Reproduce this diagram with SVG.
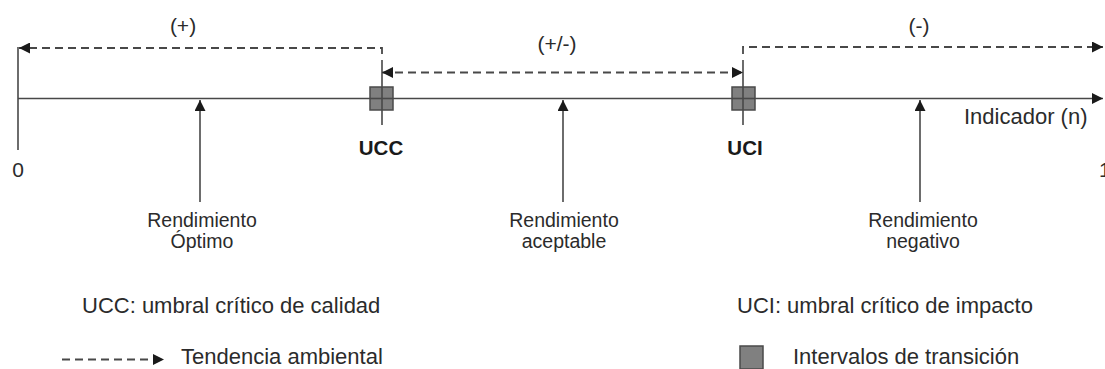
<svg xmlns="http://www.w3.org/2000/svg" width="1105" height="369" viewBox="0 0 1105 369">
  <style>
    text { font-family: "Liberation Sans", Arial, sans-serif; fill: #2b2b2b; }
    .lbl { font-size: 21px; }
    .leg { font-size: 22px; }
    .rend { font-size: 19.5px; text-anchor: middle; }
    .bold { font-size: 20.5px; font-weight: bold; text-anchor: middle; fill: #1a1a1a; }
    .line { stroke: #484848; stroke-width: 1.6; fill: none; }
    .dash { stroke: #484848; stroke-width: 1.8; fill: none; stroke-dasharray: 8 5; }
    .sq { fill: #808080; stroke: #4a4a4a; stroke-width: 1.5; }
  </style>
  <defs>
    <marker id="ah" viewBox="0 0 10 10" refX="10" refY="5" markerWidth="15" markerHeight="11" markerUnits="userSpaceOnUse" orient="auto-start-reverse">
      <path d="M0,0 L10,5 L0,10 Z" fill="#1a1a1a"/>
    </marker>
  </defs>

  <g id="connectors">
    <line class="line" x1="18" y1="47" x2="18" y2="150"/>
    <line class="line" x1="18" y1="98.5" x2="1103" y2="98.5" marker-end="url(#ah)"/>
    <line class="line" x1="382" y1="60" x2="382" y2="125"/>
    <line class="line" x1="743" y1="60" x2="743" y2="125"/>
    <path class="dash" d="M382,54 L382,48 L19,48" marker-end="url(#ah)"/>
    <path class="dash" d="M382,72.5 L743,72.5" marker-start="url(#ah)" marker-end="url(#ah)"/>
    <path class="dash" d="M743,54 L743,47 L1103,47" marker-end="url(#ah)"/>
    <line class="line" x1="200" y1="202" x2="200" y2="100" marker-end="url(#ah)"/>
    <line class="line" x1="563" y1="202" x2="563" y2="100" marker-end="url(#ah)"/>
    <line class="line" x1="920" y1="202" x2="920" y2="100" marker-end="url(#ah)"/>
  </g>

  <g id="ucc">
    <rect class="sq" x="370" y="87" width="23" height="23"/>
    <line class="line" x1="382" y1="87" x2="382" y2="110"/>
    <line class="line" x1="370" y1="98.5" x2="393" y2="98.5"/>
    <text class="bold" x="381" y="155">UCC</text>
  </g>
  <g id="uci">
    <rect class="sq" x="732" y="87" width="23" height="23"/>
    <line class="line" x1="743" y1="87" x2="743" y2="110"/>
    <line class="line" x1="732" y1="98.5" x2="755" y2="98.5"/>
    <text class="bold" x="745" y="155">UCI</text>
  </g>

  <g id="trend-labels">
    <text class="lbl" x="183" y="33" text-anchor="middle">(+)</text>
    <text class="lbl" x="557" y="51" text-anchor="middle">(+/-)</text>
    <text class="lbl" x="919" y="33" text-anchor="middle">(-)</text>
  </g>

  <g id="axis-labels">
    <text class="lbl" x="18" y="177" text-anchor="middle">0</text>
    <text class="lbl" x="1099" y="177">1</text>
    <text class="leg" x="964" y="124">Indicador (n)</text>
  </g>

  <g id="rend-optimo">
    <text class="rend" x="202" y="227">Rendimiento</text>
    <text class="rend" x="202" y="248">Óptimo</text>
  </g>
  <g id="rend-aceptable">
    <text class="rend" x="564" y="227">Rendimiento</text>
    <text class="rend" x="564" y="248">aceptable</text>
  </g>
  <g id="rend-negativo">
    <text class="rend" x="923" y="227">Rendimiento</text>
    <text class="rend" x="923" y="248">negativo</text>
  </g>

  <g id="legend">
    <text class="leg" x="82" y="313">UCC: umbral crítico de calidad</text>
    <text class="leg" x="737" y="313">UCI: umbral crítico de impacto</text>
    <path class="dash" d="M62,359.5 L164,359.5" stroke-dasharray="7 5" marker-end="url(#ah)"/>
    <text class="leg" x="181" y="364">Tendencia ambiental</text>
    <rect class="sq" x="740" y="346" width="23" height="23"/>
    <text class="leg" x="793" y="364">Intervalos de transición</text>
  </g>
</svg>
